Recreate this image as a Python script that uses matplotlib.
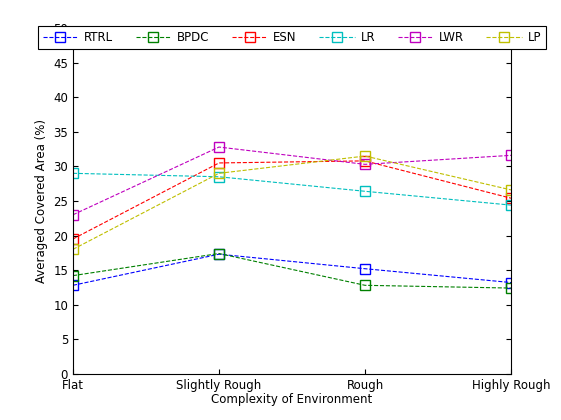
import matplotlib.pyplot as plt

envs = ["Flat", "Slightly Rough", "Rough", "Highly Rough"]
rtrl = [12.8, 17.3, 15.2, 13.2]
bpdc = [14.2, 17.4, 12.8, 12.4]
esn = [19.5, 30.5, 30.8, 25.4]
lr = [29.0, 28.5, 26.4, 24.4]
lwr = [23.0, 32.8, 30.3, 31.6]
lp = [18.0, 29.0, 31.5, 26.6]

series = [("RTRL", rtrl, (0, 0, 1)), ("BPDC", bpdc, (0, 0.5, 0)),
          ("ESN", esn, (1, 0, 0)), ("LR", lr, (0, 0.75, 0.75)),
          ("LWR", lwr, (0.75, 0, 0.75)), ("LP", lp, (0.75, 0.75, 0))]

fig = plt.figure(figsize=(5.61, 4.2), dpi=100)
ax = fig.add_axes([0.130, 0.110, 0.781, 0.823])
x = list(range(len(envs)))
for name, vals, c in series:
    ax.plot(x, vals, linestyle="--", marker="s", color=c, markerfacecolor="none",
            markersize=7, linewidth=0.8, label=name)

ax.set_xlim(0, 3)
ax.set_ylim(0, 50)
ax.set_xticks(x)
ax.set_xticklabels(envs)
ax.set_yticks(range(0, 51, 5))
ax.tick_params(direction="in", top=True, right=True, labelsize=8.5)
ax.set_xlabel("Complexity of Environment", fontsize=8.5, labelpad=1)
ax.set_ylabel("Averaged Covered Area (%)", fontsize=8.5)
leg = ax.legend(ncol=6, loc="upper center", bbox_to_anchor=(0.5, 1.005), fontsize=8.5,
                frameon=True, fancybox=False, edgecolor="black", handlelength=3.0,
                columnspacing=1.9, handletextpad=0.5, borderaxespad=0.0,
                framealpha=1)
leg.get_frame().set_linewidth(0.8)
leg.set_zorder(10)
fig.savefig("out.png", dpi=100)
